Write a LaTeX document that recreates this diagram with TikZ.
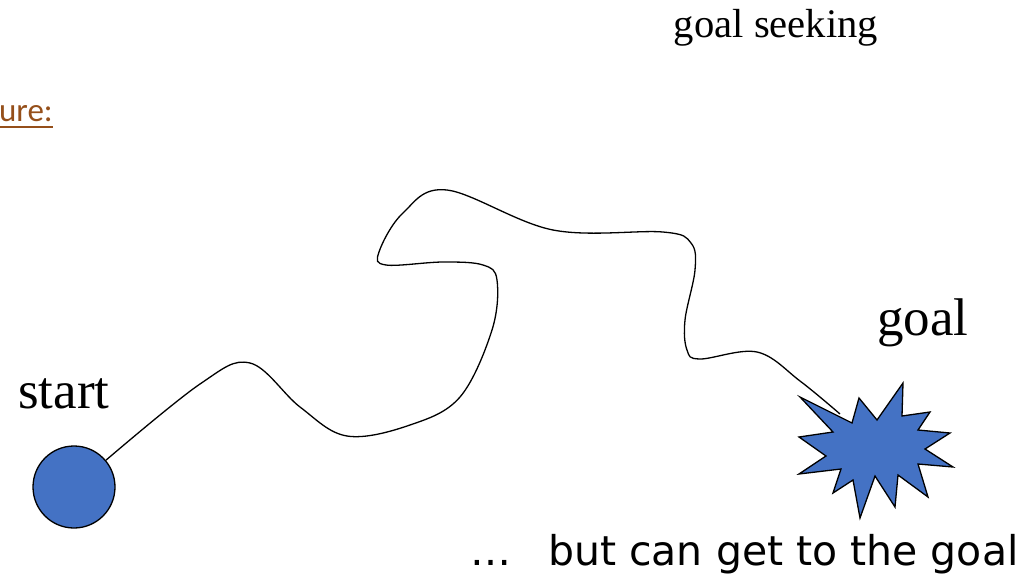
\documentclass[tikz,border=0pt]{standalone}
\usepackage{fontspec}
\setmainfont{Liberation Serif}
\newfontfamily\verd{DejaVu Sans}
\newfontfamily\calib{Carlito}
\definecolor{blobblue}{HTML}{4472C4}
\definecolor{linkbrown}{HTML}{954F1A}
\begin{document}
\begin{tikzpicture}[x=1pt,y=-1pt,
  shapeline/.style={draw=black,line width=1.3pt,fill=blobblue},
  pathline/.style={draw=black,line width=1.3pt},
  serif/.style={inner sep=0pt,font=\fontsize{53}{60}\selectfont},
  sans/.style={inner sep=0pt,font=\verd\fontsize{41}{48}\selectfont}]
\useasboundingbox (0,0) rectangle (1025,581);
% title
\node[inner sep=0pt,anchor=base,font=\fontsize{40.6}{48}\selectfont] (title) at (776,37) {goal seeking};
% cut-off heading
\node[inner sep=0pt,anchor=base east,text=linkbrown,font=\calib\fontsize{33}{38}\selectfont] (head) at (53,121) {ure:};
\draw[linkbrown,line width=1.5pt] (0,127) -- (53,127);
% start circle
\node[circle,shapeline,minimum size=82pt,inner sep=0pt] (s) at (74,487) {};
\node[serif,anchor=base west] (startlbl) at (18,408) {start};
% goal star
\draw[shapeline,line join=miter]
  (800,397) -- (852,423) -- (859,398) -- (877,420) -- (903,383) -- (902,416)
  -- (930,412) -- (918,430) -- (950,433) -- (925,449) -- (953,467) -- (918,464)
  -- (928,497) -- (898,475) -- (895,507) -- (875,476) -- (860,518) -- (853,480)
  -- (833,493) -- (841,469) -- (799,474) -- (826,456) -- (799,437) -- (833,432) -- cycle;
\coordinate (g) at (840,414);
\node[serif,anchor=base west] (goallbl) at (877,335) {goal};
% wandering path
\draw[pathline] plot[smooth,tension=0.6] coordinates {
  (s.40) (200,384) (250,363) (300,407) (347,436) (410,425) (460,397) (492,330)
  (497,280) (483,265) (443,262) (386,265) (379,252) (403,213) (447,190)
  (553,230) (663,232) (691,243) (695,270) (685,320) (687,350)
  (700,359) (757,352) (800,381) (g)};
% bottom text
\node[sans,anchor=base west] (dots) at (470,565) {\ldots};
\node[sans,anchor=base west] (but) at (548,565) {but can get to the goal};
\end{tikzpicture}
\end{document}
